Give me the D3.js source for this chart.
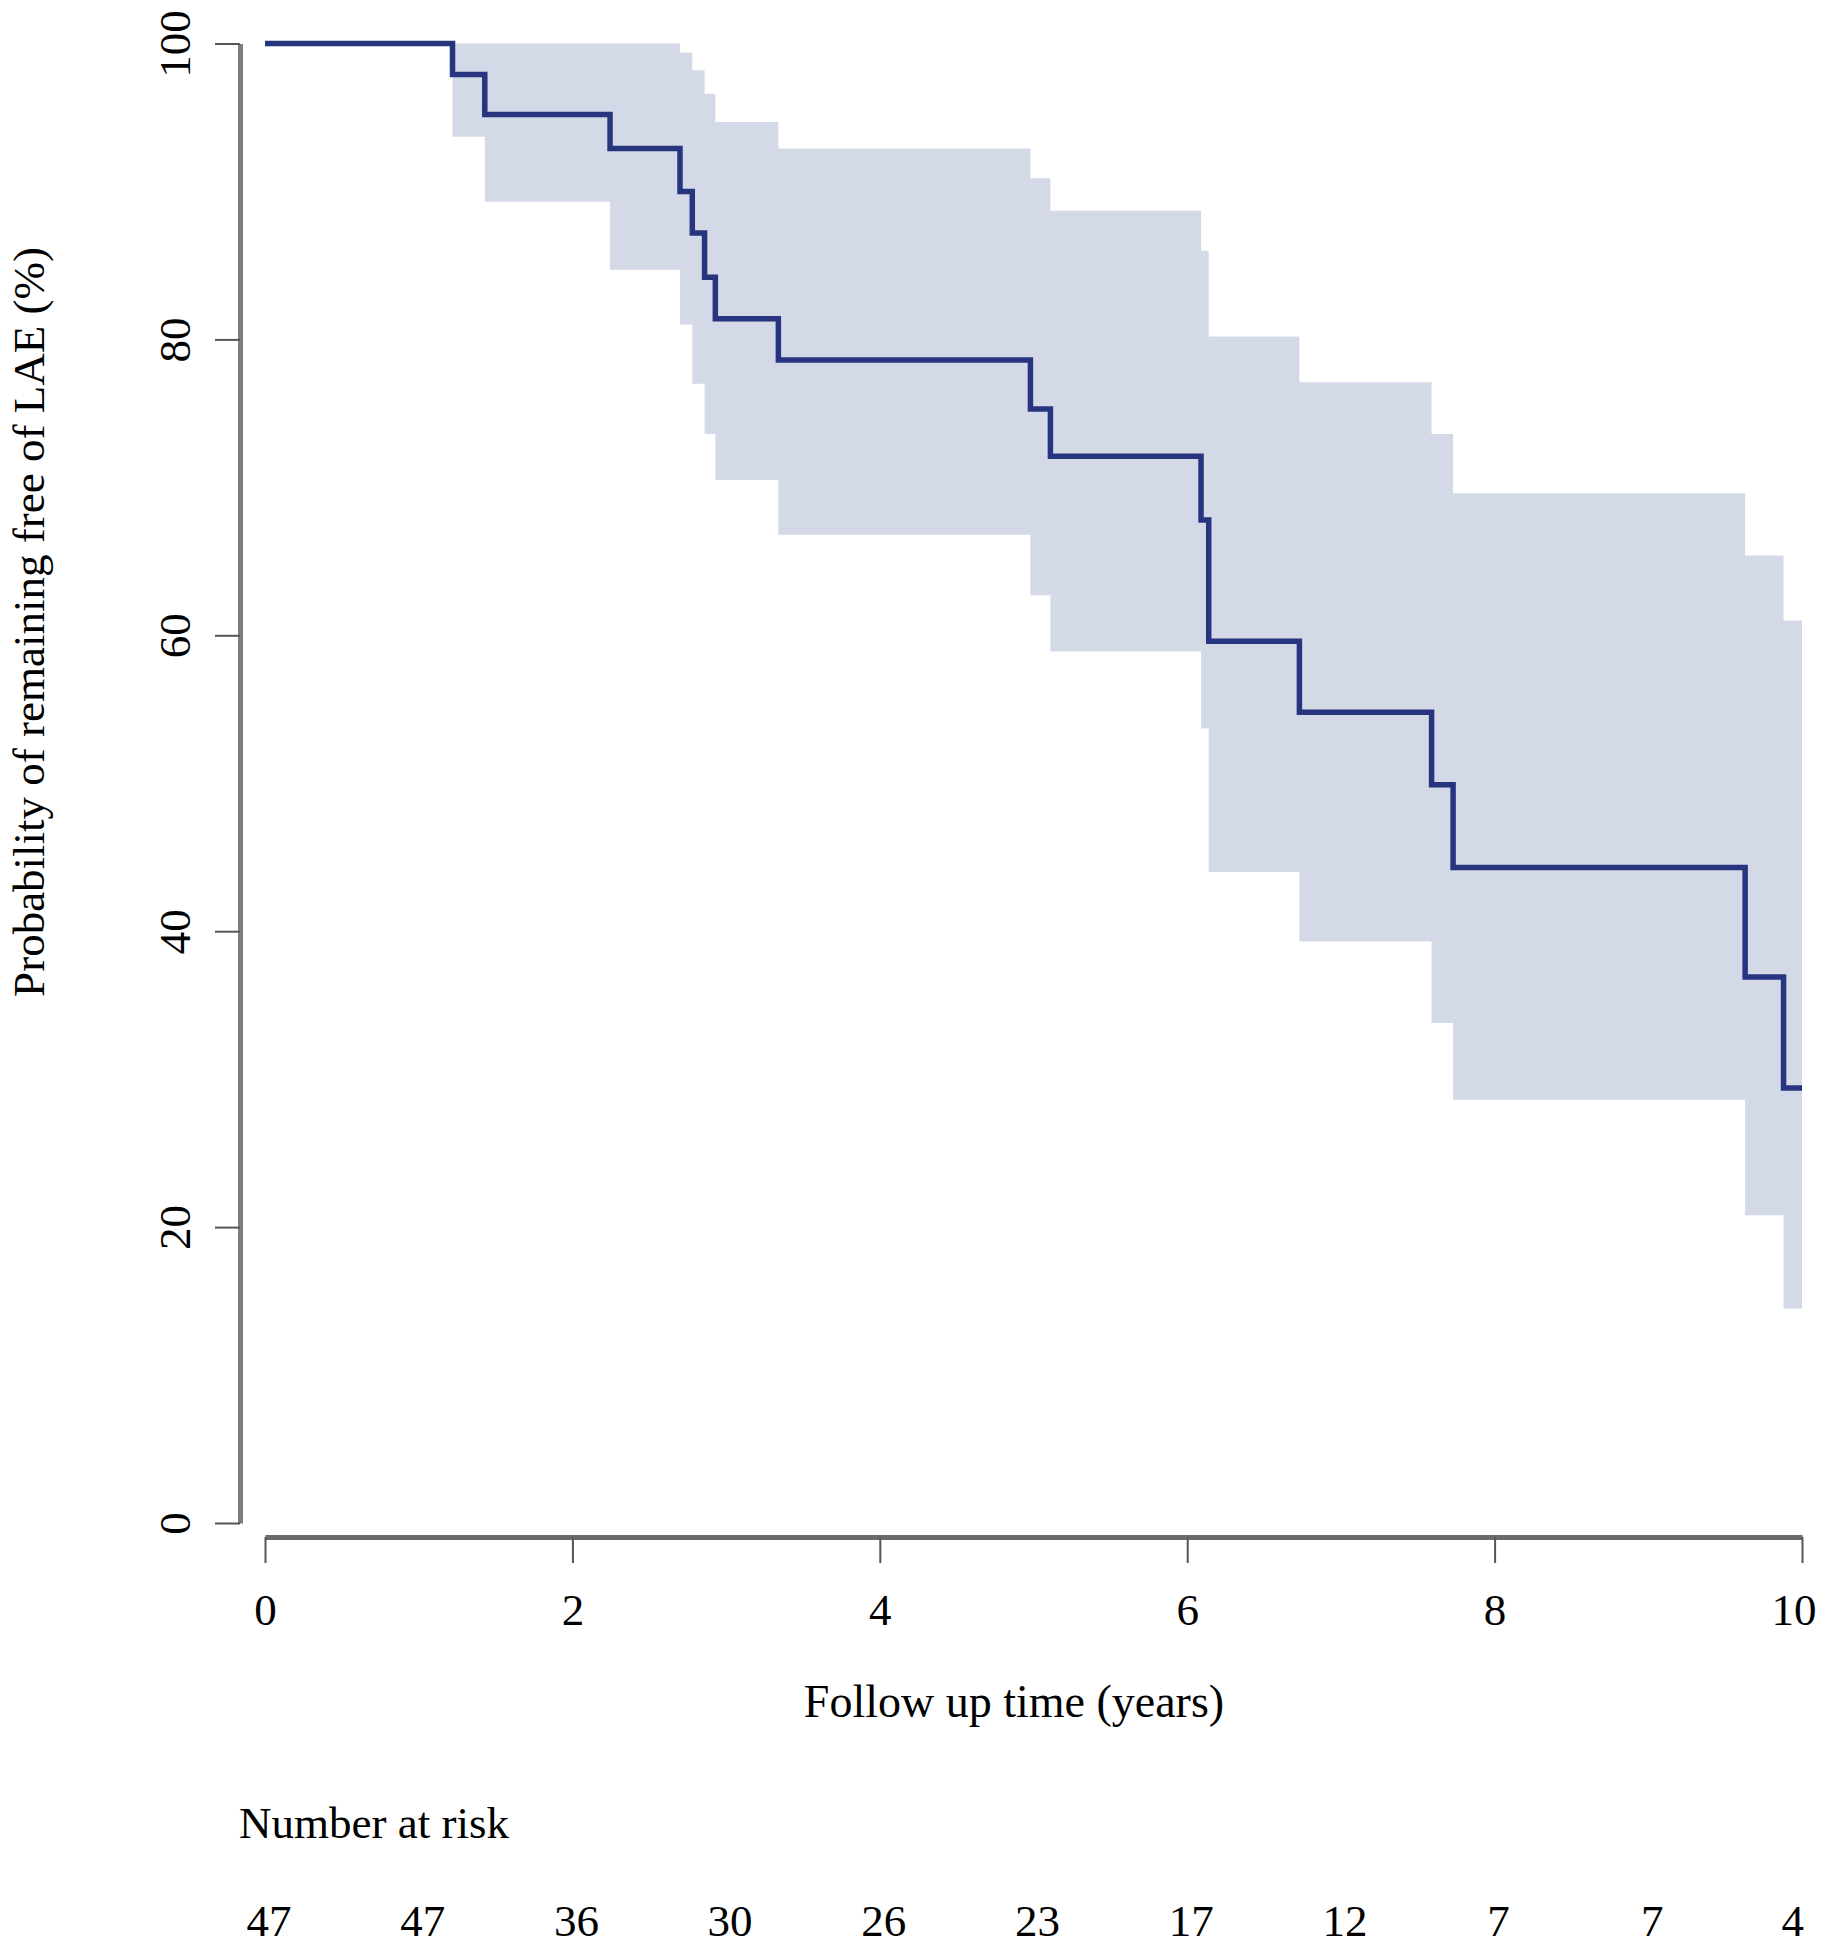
<!DOCTYPE html>
<html>
<head>
<meta charset="utf-8">
<script src="https://d3js.org/d3.v7.min.js"></script>
<style>
body { margin: 0; background: #fff; }
text { font-family: "Liberation Serif", "Times New Roman", serif; fill: #000; }
</style>
</head>
<body>
<div id="my_dataviz"></div>
<script>

// Kaplan-Meier steps (time in years, survival in %)
var eventTimes = [0, 1.22, 1.43, 2.245, 2.70, 2.78, 2.86, 2.93, 3.34, 4.98, 5.11, 6.09, 6.14, 6.73, 7.59, 7.73, 9.63, 9.88, 10];
var survival   = [100, 97.9, 95.2, 92.9, 90.0, 87.2, 84.2, 81.4, 78.6, 75.3, 72.1, 67.8, 59.6, 54.8, 49.9, 44.3, 36.9, 29.4, 29.4];
var upperCI    = [100, 100, 100, 100, 99.4, 98.2, 96.6, 94.7, 92.9, 90.9, 88.7, 86.0, 80.2, 77.1, 73.6, 69.6, 65.4, 61.0, 61.0];
var lowerCI    = [100, 93.7, 89.3, 84.7, 81.0, 77.0, 73.6, 70.5, 66.8, 62.7, 58.9, 53.7, 44.0, 39.3, 33.8, 28.6, 20.8, 14.5, 14.5];

var xTicks = [0, 2, 4, 6, 8, 10];
var yTicks = [0, 20, 40, 60, 80, 100];

var riskYears = [0, 1, 2, 3, 4, 5, 6, 7, 8, 9, 10];
var riskCounts = [47, 47, 36, 30, 26, 23, 17, 12, 7, 7, 4];

var width = 1823, height = 1950;

var svg = d3.select("#my_dataviz")
  .append("svg")
    .attr("width", width)
    .attr("height", height);

var x = d3.scaleLinear().domain([0, 10]).range([265, 1802]);
var y = d3.scaleLinear().domain([0, 100]).range([1523, 43.5]);

var rows = eventTimes.map(function(t, i) {
  return {t: t, s: survival[i], lo: lowerCI[i], hi: upperCI[i]};
});

// confidence band
var band = d3.area()
  .curve(d3.curveStepAfter)
  .x(function(d) { return x(d.t); })
  .y0(function(d) { return y(d.lo); })
  .y1(function(d) { return y(d.hi); });

svg.append("path")
  .datum(rows.slice(1))
  .attr("d", band)
  .attr("fill", "#d4d9e8");

// survival curve
var line = d3.line()
  .curve(d3.curveStepAfter)
  .x(function(d) { return x(d.t); })
  .y(function(d) { return y(d.s); });

svg.append("path")
  .datum(rows)
  .attr("d", line)
  .attr("fill", "none")
  .attr("stroke", "#27357f")
  .attr("stroke-width", 5.5);

// Y axis
var yAxis = svg.append("g")
  .attr("transform", "translate(240,0)")
  .call(d3.axisLeft(y).tickValues(yTicks).tickSize(25).tickSizeOuter(0));
yAxis.select(".domain").attr("stroke", "#7d7d7d").attr("stroke-width", 5);
yAxis.selectAll(".tick line").attr("stroke", "#555").attr("stroke-width", 2);
yAxis.selectAll(".tick text")
  .attr("x", null).attr("dy", null)
  .attr("transform", "translate(-50,0) rotate(-90)")
  .attr("text-anchor", "middle")
  .style("font-size", "45px")
  .style("font-family", "Liberation Serif")
  .attr("fill", "#000");

// X axis
var xAxis = svg.append("g")
  .attr("transform", "translate(0,1537)")
  .call(d3.axisBottom(x).tickValues(xTicks).tickSize(26).tickSizeOuter(0));
xAxis.select(".domain").attr("stroke", "#6a6a6a").attr("stroke-width", 5);
xAxis.selectAll(".tick line").attr("stroke", "#555").attr("stroke-width", 2);
xAxis.selectAll(".tick text")
  .attr("y", 88).attr("dy", null)
  .style("font-size", "45px")
  .style("font-family", "Liberation Serif")
  .attr("fill", "#000");
// keep the last label inside the page
xAxis.selectAll(".tick text")
  .filter(function(d) { return d === 10; })
  .attr("text-anchor", "end")
  .attr("x", 14);

// axis titles
svg.append("text")
  .attr("text-anchor", "middle")
  .attr("x", 1014)
  .attr("y", 1717)
  .style("font-size", "46px")
  .text("Follow up time (years)");

svg.append("text")
  .attr("text-anchor", "middle")
  .attr("transform", "translate(44,622) rotate(-90)")
  .style("font-size", "45px")
  .text("Probability of remaining free of LAE (%)");

// number at risk table
svg.append("text")
  .attr("x", 239)
  .attr("y", 1838)
  .style("font-size", "45px")
  .text("Number at risk");

svg.selectAll("text.risk")
  .data(riskYears)
  .enter()
  .append("text")
    .attr("class", "risk")
    .attr("text-anchor", function(d) { return d === 10 ? "end" : "middle"; })
    .attr("x", function(d) { return d === 10 ? x(d) + 2 : x(d) + 4; })
    .attr("y", 1936)
    .style("font-size", "45px")
    .text(function(d, i) { return riskCounts[i]; });

</script>
</body>
</html>
